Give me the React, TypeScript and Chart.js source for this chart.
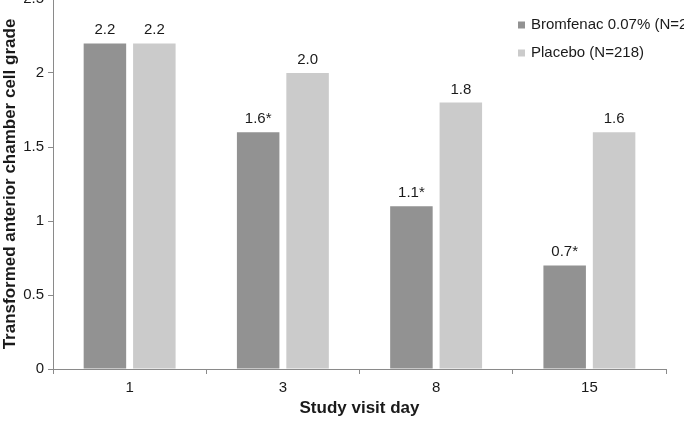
import { useEffect, useRef } from "react";
import { Chart, registerables } from "chart.js";

Chart.register(...registerables);

// Study visit days on the x axis
const visitDays = ["1", "3", "8", "15"];

// Transformed anterior chamber cell grade per visit
const bromfenacGrades = [2.2, 1.6, 1.1, 0.7];
const placeboGrades = [2.2, 2.0, 1.8, 1.6];

// Visits where bromfenac differs significantly from placebo (marked with *)
const bromfenacSignificant = [false, true, true, true];
const placeboSignificant = [false, false, false, false];

const seriesNames = ["Bromfenac 0.07% (N=222)", "Placebo (N=218)"];
const seriesColors = ["#929292", "#cbcbcb"];

const yTicks = [0, 0.5, 1, 1.5, 2, 2.5];

const FONT = "'Liberation Sans', Arial, sans-serif";
const TEXT = "#1a1a1a";
const AXIS = "#8a8a8a";

const significance = [bromfenacSignificant, placeboSignificant];

// Value labels above each bar, with an asterisk where significant
const valueLabels = {
  id: "valueLabels",
  afterDatasetsDraw(chart: any) {
    const ctx = chart.ctx;
    ctx.save();
    ctx.font = `15px ${FONT}`;
    ctx.fillStyle = TEXT;
    ctx.textAlign = "center";
    ctx.textBaseline = "alphabetic";
    chart.data.datasets.forEach((ds: any, i: number) => {
      const meta = chart.getDatasetMeta(i);
      meta.data.forEach((bar: any, j: number) => {
        const v = ds.data[j] as number;
        const text = v.toFixed(1) + (significance[i][j] ? "*" : "");
        ctx.fillText(text, bar.x, bar.y - 9);
      });
    });
    ctx.restore();
  },
};

// Legend drawn over the upper right of the plot
const cornerLegend = {
  id: "cornerLegend",
  afterDraw(chart: any) {
    const ctx = chart.ctx;
    ctx.save();
    ctx.font = `15px ${FONT}`;
    ctx.textAlign = "left";
    ctx.textBaseline = "middle";
    chart.data.datasets.forEach((ds: any, i: number) => {
      const y = 26 + i * 28;
      ctx.fillStyle = ds.backgroundColor;
      ctx.fillRect(518, y - 3.5, 7, 7);
      ctx.fillStyle = TEXT;
      ctx.fillText(ds.label, 531, y);
    });
    ctx.restore();
  },
};

export default function App() {
  const canvasRef = useRef<HTMLCanvasElement | null>(null);

  useEffect(() => {
    if (!canvasRef.current) return;
    const chart = new Chart(canvasRef.current, {
      type: "bar",
      data: {
        labels: visitDays,
        datasets: [
          {
            label: seriesNames[0],
            data: bromfenacGrades,
            backgroundColor: seriesColors[0],
            categoryPercentage: 0.645,
            barPercentage: 0.86,
          },
          {
            label: seriesNames[1],
            data: placeboGrades,
            backgroundColor: seriesColors[1],
            categoryPercentage: 0.645,
            barPercentage: 0.86,
          },
        ],
      },
      options: {
        animation: false,
        responsive: true,
        maintainAspectRatio: false,
        layout: { padding: { left: 0, right: 18, top: 0, bottom: 0 } },
        plugins: {
          legend: { display: false },
          tooltip: { enabled: false },
        },
        scales: {
          x: {
            grid: {
              offset: true,
              drawOnChartArea: false,
              drawTicks: true,
              tickLength: 5,
              color: AXIS,
            },
            border: { color: AXIS, width: 1 },
            ticks: {
              color: TEXT,
              font: { family: FONT, size: 15 },
              padding: 5,
            },
            title: {
              display: true,
              text: "Study visit day",
              color: TEXT,
              font: { family: FONT, size: 17, weight: "bold" },
              padding: { top: 0, bottom: 3 },
            },
            afterFit(scale: any) {
              scale.height = 53;
              scale.paddingLeft = 0;
              scale.paddingRight = 0;
            },
          },
          y: {
            min: 0,
            max: 2.5,
            afterBuildTicks(scale: any) {
              scale.ticks = yTicks.map((v) => ({ value: v }));
            },
            grid: {
              drawOnChartArea: false,
              drawTicks: true,
              tickLength: 5,
              color: AXIS,
            },
            border: { color: AXIS, width: 1 },
            ticks: {
              color: TEXT,
              font: { family: FONT, size: 15 },
              padding: 4,
              callback: (value: any) => String(Number(value)),
            },
            title: {
              display: true,
              text: "Transformed anterior chamber cell grade",
              color: TEXT,
              font: { family: FONT, size: 17, weight: "bold" },
              padding: { top: 0, bottom: 0 },
            },
            afterFit(scale: any) {
              scale.width = 53;
              scale.paddingTop = 0;
              scale.paddingBottom = 0;
            },
          },
        },
      },
      plugins: [valueLabels, cornerLegend],
    });
    return () => chart.destroy();
  }, []);

  return (
    <div
      style={{
        position: "fixed",
        left: 0,
        top: -1,
        width: 684,
        height: 423,
        background: "#ffffff",
      }}
    >
      <canvas ref={canvasRef} />
    </div>
  );
}
